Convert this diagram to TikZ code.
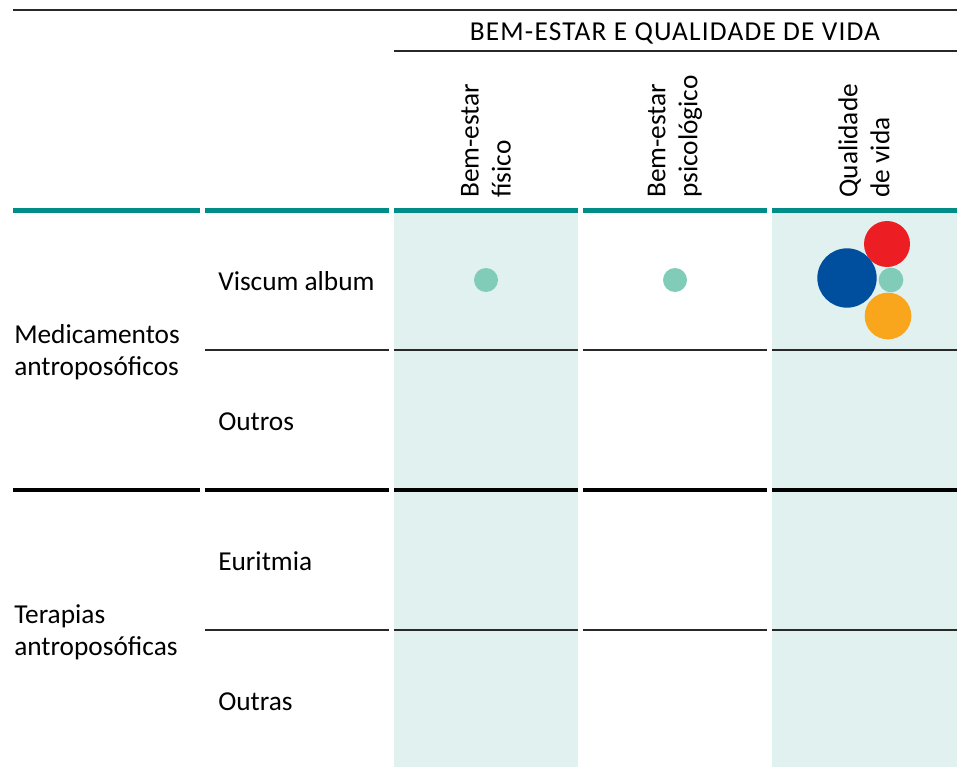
\documentclass[tikz,border=0pt]{standalone}
\usepackage{fontspec}
\setmainfont{Carlito}
\usetikzlibrary{positioning}
\definecolor{rulegreen}{RGB}{0,141,135}
\definecolor{colshade}{RGB}{225,241,239}
\definecolor{dotgreen}{RGB}{128,204,184}
\definecolor{dotblue}{RGB}{0,78,158}
\definecolor{dotred}{RGB}{237,29,36}
\definecolor{dotorange}{RGB}{249,166,28}
\definecolor{rulegray}{RGB}{40,40,40}

\begin{document}
\begin{tikzpicture}[x=0.75pt,y=0.75pt,yscale=-1,xscale=1,
  every node/.style={font=\fontsize{20.5}{24}\selectfont, inner sep=0pt},
  thinrule/.style={draw=rulegray, line width=1.05pt},
  greenrule/.style={draw=rulegreen, line width=3.75pt},
  blackrule/.style={draw=black, line width=3.2pt},
  colhead/.style={rotate=90, anchor=west, align=left},
  rowlabel/.style={anchor=base west},
  bubble/.style={circle, minimum size=#1, inner sep=0pt}]
\useasboundingbox (0,0) rectangle (957,767);

%Shaded columns
\fill [colshade] (394,213) rectangle (578,767);
\fill [colshade] (772,213) rectangle (957,767);

%Top rules
\draw [thinrule] (13,10) -- (957,10);
\draw [thinrule] (394,51) -- (957,51);

%Group rules
\foreach \xa/\xb in {13/200,205/389,394/578,583/767,772/957}{
  \draw [greenrule] (\xa,210) -- (\xb,210);
  \draw [blackrule] (\xa,490) -- (\xb,490);
}
%Row rules
\foreach \xa/\xb in {205/389,394/578,583/767,772/957}{
  \draw [thinrule] (\xa,350) -- (\xb,350);
  \draw [thinrule] (\xa,630) -- (\xb,630);
}

% Text Node
\node (title) [anchor=base] at (675,41) {\addfontfeatures{LetterSpace=4.3}BEM-ESTAR E QUALIDADE DE VIDA};
% Text Node
\node (fisico) [colhead] at (486,198) {Bem-estar\\físico};
% Text Node
\node (psico) [colhead] at (675,198) {Bem-estar\\psicológico};
% Text Node
\node (qualidade) [colhead] at (864,198) {Qualidade\\de vida};

% Text Node
\node (medicamentos) [anchor=west, align=left] at (14,352) {Medicamentos\\antroposóficos};
% Text Node
\node (terapias) [anchor=west, align=left] at (14,632) {Terapias\\antroposóficas};

% Text Node
\node (viscum) [rowlabel] at (218,290) {Viscum album};
% Text Node
\node (outros) [rowlabel] at (218,430) {Outros};
% Text Node
\node (euritmia) [rowlabel] at (218,570) {Euritmia};
% Text Node
\node (outras) [rowlabel] at (218,710) {Outras};

%Bubbles
\node (fisicodot) [bubble=18pt, fill=dotgreen] at (486,280) {};
\node (psicodot) [bubble=18pt, fill=dotgreen] at (675,280) {};
\node (qualblue) [bubble=44.5pt, fill=dotblue] at (847,278) {};
\node (qualred) [bubble=34.5pt, fill=dotred] at (887,244) {};
\node (qualgreen) [bubble=18.5pt, fill=dotgreen] at (891,280) {};
\node (qualorange) [bubble=35pt, fill=dotorange] at (888,316) {};

\end{tikzpicture}
\end{document}
